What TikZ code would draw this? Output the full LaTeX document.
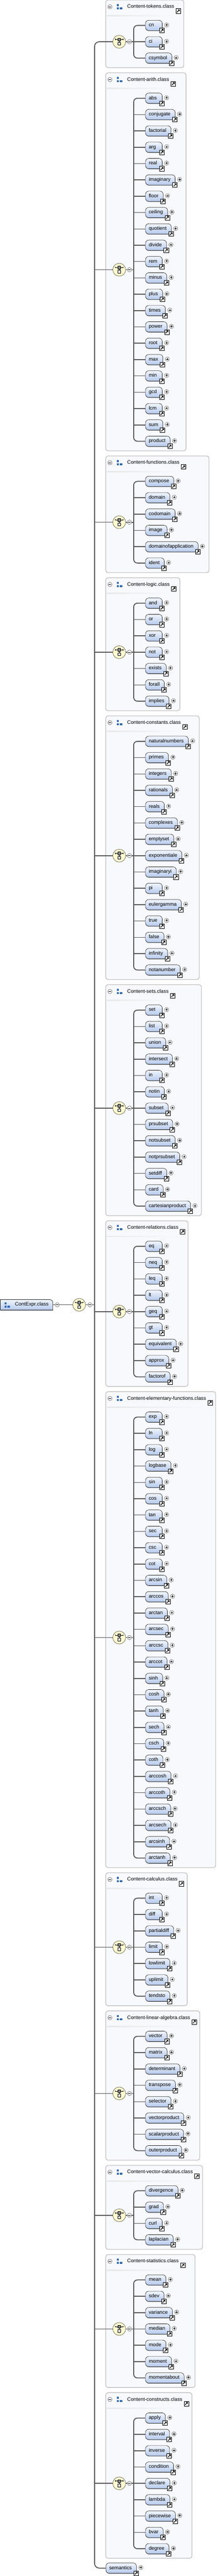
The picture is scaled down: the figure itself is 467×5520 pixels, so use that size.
\documentclass[tikz,border=0pt]{standalone}
\usepackage{fontspec}
\setmainfont{Liberation Sans}
\usetikzlibrary{calc,backgrounds,shadows}

\definecolor{clsfill}{RGB}{248,249,253}
\definecolor{clsedge}{RGB}{196,196,196}
\definecolor{eltop}{RGB}{242,246,253}
\definecolor{elbot}{RGB}{181,201,236}
\definecolor{compfill}{RGB}{255,250,208}
\definecolor{compedge}{RGB}{115,115,95}
\definecolor{linec}{RGB}{88,88,88}
\definecolor{iconblue}{RGB}{38,98,172}

\newcommand\elfont{\fontsize{10.8}{13}\selectfont}
\newcommand\elnm[1]{\setbox0\hbox{#1}\ifdim\wd0<19pt\hbox to 19pt{#1\hfil}\else\box0\fi\kern3pt}
\newdimen\cbTmp
\newdimen\cbMx
\gdef\cbCur{0}

\tikzset{
  elbox/.style={draw=black!85, line width=0.7pt, rounded corners=7pt,
    top color=eltop, bottom color=elbot, minimum height=22pt,
    inner xsep=7pt, inner ysep=0pt, anchor=west, font=\elfont,
    text height=7.6pt, text depth=2.4pt,
    general shadow={fill=black!55, shadow xshift=0.4pt, shadow yshift=-1pt}},
  ttl/.style={anchor=west, inner sep=0pt, font=\elfont, text height=7.6pt, text depth=2.4pt},
  clsbox/.style={draw=clsedge, line width=1.5pt, fill=clsfill, rounded corners=5pt},
  comp/.style={circle, minimum size=27.6pt, inner sep=0pt, fill=compfill, draw=compedge, line width=0.9pt},
  bus/.style={draw=linec, line width=2pt},
  branch/.style={draw=linec, line width=1.7pt},
  plusc/.pic={
    \draw[fill=white, draw=black!65, line width=0.6pt] (0,0) circle (4.6pt);
    \draw[line width=0.7pt] (-2.6,0) -- (2.6,0) (0,-2.6) -- (0,2.6);},
  minusc/.pic={
    \draw[fill=white, draw=black!65, line width=0.6pt] (0,0) circle (4.6pt);
    \draw[line width=0.7pt] (-2.6,0) -- (2.6,0);},
  linkic/.pic={
    \draw[fill=white, draw=black, line width=0.7pt] (-5,-5) rectangle (5,5);
    \draw[line width=1.3pt] (-2.8,2.8) -- (1.0,-1.0);
    \fill (3.3,-3.3) -- (-1.2,-3.3) -- (3.3,1.2) -- cycle;},
  compic/.pic={
    \draw[line width=0.6pt] (-8.5,-5) -- (8.5,-5);
    \draw[line width=0.6pt] (-8.5,-6.5) -- (-8.5,-3.5) (8.5,-6.5) -- (8.5,-3.5);
    \draw[line width=0.4pt] (0,-2) -- (0,1.3);
    \draw[fill=black!45, line width=0.5pt] (-3,-8) rectangle (3,-2);
    \draw[fill=white, line width=0.6pt] (-3,1.3) rectangle (3,7.3);},
  blueic/.pic={
    \fill[iconblue] (0,0) rectangle (4,4) (0,7) rectangle (4,11) (6,7) rectangle (11.5,11);}
}

\newcommand\classblock[3]{% #1 id, #2 title, #3 element list
  \pgfmathsetmacro\cbTop{\cbCur}
  \global\cbMx=0pt
  \foreach \e [count=\i] in {#3} {
    \pgfmathsetmacro\cbY{\cbTop+54.5+35*(\i-1)}
    \node[elbox] (e-#1-\i) at (312,\cbY) {\elnm{\e}};
    \pic at ($(e-#1-\i.east)+(9,-1)$) {plusc};
    \pic at ($(e-#1-\i.south east)+(-1,-0.5)$) {linkic};
    \pgfextractx{\cbTmp}{\pgfpointanchor{e-#1-\i}{east}}
    \ifdim\cbTmp>\cbMx \global\cbMx=\cbTmp\fi
    \xdef\cbN{\i}
  }
  \pgfmathsetmacro\cbC{\cbTop+54.5+17.5*(\cbN-1)}
  \pgfmathsetmacro\cbBot{\cbTop+54.5+35*(\cbN-1)+20.5}
  \node[ttl] (t-#1) at (273,\cbTop+15) {#2};
  \pic at ($(t-#1.east)+(8.5,8.5)$) {linkic};
  \pic at (236,\cbTop+14.5) {minusc};
  \pic at (251,\cbTop+9) {blueic};
  \pgfextractx{\cbTmp}{\pgfpointanchor{t-#1}{east}}
  \pgfmathsetmacro\cbEa{\the\cbMx}
  \pgfmathsetmacro\cbEb{\the\cbTmp}
  \pgfmathsetmacro\cbR{max(\cbEa+23,\cbEb+20.5)}
  \begin{pgfonlayer}{background}
    \draw[clsbox] (227,\cbTop) rectangle (\cbR,\cbBot);
    \shade[left color=black!9, right color=clsfill] (230,\cbTop+32.5) rectangle (\cbEb,\cbTop+34.5);
  \end{pgfonlayer}
  \coordinate (bus-#1) at (287,\cbC);
  \node[comp] (cp-#1) at (256,\cbC) {};
  \pic at (cp-#1) {compic};
  \draw[bus] (cp-#1.east) -- (bus-#1);
  \pic at (278,\cbC) {minusc};
  \draw[bus, rounded corners=8pt] (e-#1-1.west) -| (bus-#1) |- (e-#1-\cbN.west);
  \pgfmathtruncatemacro\cbM{\cbN-1}
  \foreach \j in {2,...,\cbM} \draw[branch] (e-#1-\j.west) -- (e-#1-\j.west -| bus-#1);
  \pgfmathsetmacro\cbNext{\cbBot+11}
  \xdef\cbCur{\cbNext}
}

\begin{document}
\begin{tikzpicture}[x=1pt,y=-1pt]
\useasboundingbox (0,0) rectangle (467,5520);

\classblock{1}{Content-tokens.class}{cn,ci,csymbol}
\classblock{2}{Content-arith.class}{abs,conjugate,factorial,arg,real,imaginary,floor,ceiling,quotient,divide,rem,minus,plus,times,power,root,max,min,gcd,lcm,sum,product}
\classblock{3}{Content-functions.class}{compose,domain,codomain,image,domainofapplication,ident}
\classblock{4}{Content-logic.class}{and,or,xor,not,exists,forall,implies}
\classblock{5}{Content-constants.class}{naturalnumbers,primes,integers,rationals,reals,complexes,emptyset,exponentiale,imaginaryi,pi,eulergamma,true,false,infinity,notanumber}
\classblock{6}{Content-sets.class}{set,list,union,intersect,in,notin,subset,prsubset,notsubset,notprsubset,setdiff,card,cartesianproduct}
\classblock{7}{Content-relations.class}{eq,neq,leq,lt,geq,gt,equivalent,approx,factorof}
\classblock{8}{Content-elementary-functions.class}{exp,ln,log,logbase,sin,cos,tan,sec,csc,cot,arcsin,arccos,arctan,arcsec,arccsc,arccot,sinh,cosh,tanh,sech,csch,coth,arccosh,arccoth,arccsch,arcsech,arcsinh,arctanh}
\classblock{9}{Content-calculus.class}{int,diff,partialdiff,limit,lowlimit,uplimit,tendsto}
\classblock{10}{Content-linear-algebra.class}{vector,matrix,determinant,transpose,selector,vectorproduct,scalarproduct,outerproduct}
\classblock{11}{Content-vector-calculus.class}{divergence,grad,curl,laplacian}
\classblock{12}{Content-statistics.class}{mean,sdev,variance,median,mode,moment,momentabout}
\classblock{13}{Content-constructs.class}{apply,interval,inverse,condition,declare,lambda,piecewise,bvar,degree}

% semantics element
\node[elbox] (sem) at (227,5503) {\elnm{semantics}};
\pic at ($(sem.east)+(9,-1)$) {plusc};
\pic at ($(sem.south east)+(-1,-0.5)$) {linkic};

% main bus
\coordinate (mbus) at (203,2796);
\draw[bus, rounded corners=10pt] (cp-1.west) -| (mbus) |- (sem.west);
\foreach \k in {2,...,13} \draw[branch] (cp-\k.west) -- (cp-\k.west -| mbus);

% root
\node[anchor=west, inner sep=0pt, minimum height=22pt, font=\elfont, text height=7.6pt, text depth=2.4pt] (root) at (0.5,2796) {\hbox to 112.5pt{\hskip31.5pt ContExpr.class\hfil}};
\begin{pgfonlayer}{background}
  \shade[top color=eltop, bottom color=elbot, draw=black!85, line width=0.8pt]
    (root.south west) -- (root.north west) -- ($(root.north east)+(-6,0)$)
    .. controls ($(root.north east)+(-2.7,0)$) and ($(root.north east)+(0,2.7)$) .. ($(root.north east)+(0,6)$)
    -- (root.south east) -- cycle;
  \draw[black!55, line width=0.8pt] ($(root.south west)+(0.5,1)$) -- ($(root.south east)+(0.5,1)$);
\end{pgfonlayer}
\pic at (10,2791) {blueic};
\node[comp] (rcp) at (170,2796) {};
\pic at (rcp) {compic};
\draw[branch] (root.east) -- (rcp.west);
\pic at (123,2796) {minusc};
\draw[branch] (rcp.east) -- (mbus);
\pic at (193,2796) {minusc};
\end{tikzpicture}
\end{document}
